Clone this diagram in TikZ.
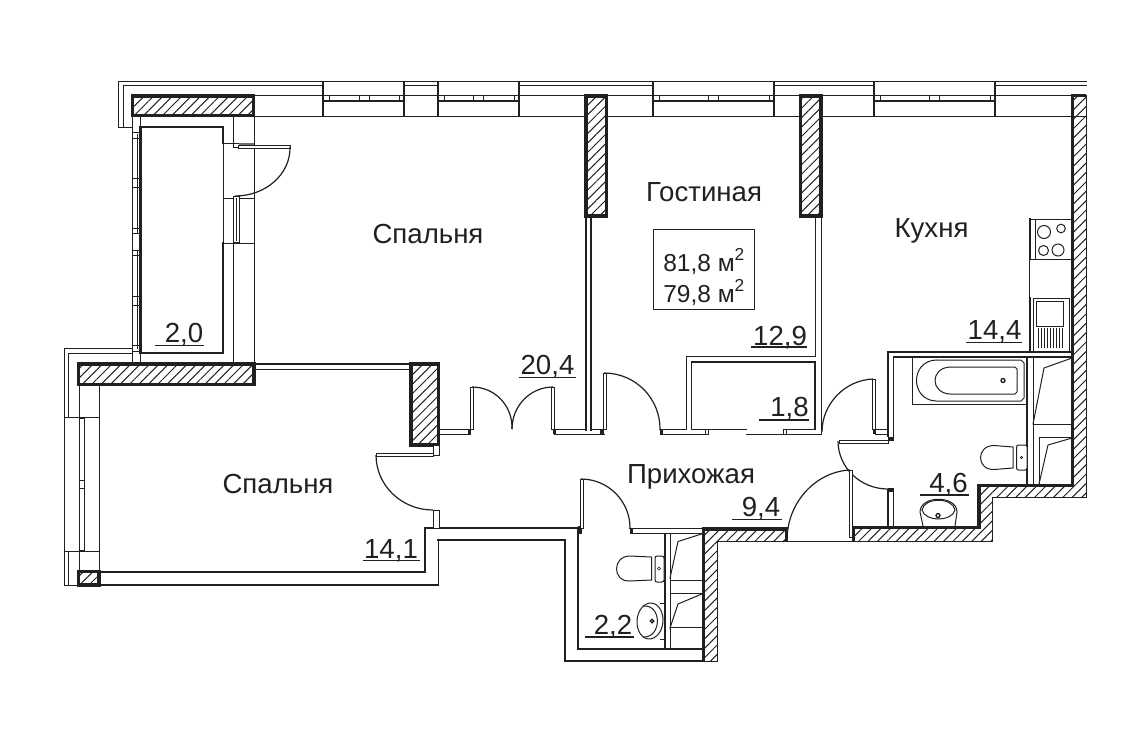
\documentclass[tikz,border=0pt]{standalone}
\usepackage{fontspec}
\setmainfont{Liberation Sans}
\usetikzlibrary{calc,patterns.meta}
\definecolor{ink}{HTML}{231F20}
\tikzset{
  ln/.style={draw=ink,line width=.75pt,line cap=rect},
  med/.style={draw=ink,line width=1.05pt,line cap=rect},
  hvy/.style={draw=ink,line width=1.8pt,line cap=rect},
  wall/.style={draw=ink,line width=2.7pt,line join=miter},
  hatch/.style={pattern={Lines[angle=45,distance=5pt,line width=.75pt]},pattern color=ink},
  lbl/.style={anchor=base,text=ink,font=\fontsize{20.7}{24}\selectfont,inner sep=0pt},
  sm/.style={anchor=base west,text=ink,font=\fontsize{18.4}{22}\selectfont,inner sep=0pt},
  leaf/.style={draw=ink,line width=.75pt,fill=white},
  swing/.style={draw=ink,line width=.9pt}
}
\newcommand{\doorarc}[3]{\draw[swing] (#2) .. controls ($(#2)+0.5523*(#3)-0.5523*(#1)$) and ($(#3)+0.5523*(#2)-0.5523*(#1)$) .. (#3);}
\newcommand{\topwin}[3]{%
  \draw[hvy,line cap=butt] (#1,81)--(#1,116) (#2,81)--(#2,116);
  \draw[med] (#1,101)--(#2,101);
  \draw[ln] ({#1+6},95)--({#1+6},101) ({#2-5},95)--({#2-5},101) ({#3-5},95)--({#3-5},101) ({#3+5},95)--({#3+5},101);
}
\begin{document}
\begin{tikzpicture}[x=.75pt,y=-.75pt]
\useasboundingbox (0,0) rectangle (1144,740);
% ---- upper facade
\draw[ln] (132,127)--(118,127)--(118,81)--(1086,81);
\draw[ln] (123,127)--(123,85)--(323,85) (404,85)--(438,85) (519,85)--(653,85) (774,85)--(874,85) (995,85)--(1086,85);
\draw[ln] (254,95.5)--(585,95.5) (607,95.5)--(800,95.5) (821,95.5)--(1072,95.5);
\draw[ln] (254,116)--(585,116) (607,116)--(800,116) (821,116)--(1072,116);
\topwin{323}{404}{364}
\topwin{438}{519}{478}
\topwin{653}{774}{713.5}
\topwin{874}{995}{934.5}
% ---- hatched walls
\draw[wall,hatch] (132.5,96)rectangle(253.5,115.5);
\draw[wall,hatch] (586,96)rectangle(606.5,216);
\draw[wall,hatch] (800.5,96)rectangle(821,216);
\draw[wall,hatch] (78.5,364)rectangle(254,384.5);
\draw[wall,hatch] (411,364)rectangle(438.5,445);
\draw[wall,hatch] (78.5,571.5)rectangle(99,585);
% stepped outer wall
\path[hatch] (703,528)--(787,528)--(787,541)--(717,541)--(717,661)--(703,661)--cycle;
\draw[ln] (787,541)--(717,541)--(717,661)--(703,661);
\draw[wall] (703.5,661)--(703.5,529)--(786.5,529)--(786.5,541);
\path[hatch] (853,527)--(979,527)--(979,485)--(1072,485)--(1072,95)--(1086,95)--(1086,497)--(992,497)--(992,541)--(853,541)--cycle;
\draw[ln] (1086,95)--(1086,497)--(992,497)--(992,541)--(853,541);
\draw[wall] (853.5,541)--(853.5,527.5)--(979,527.5)--(979,485.5)--(1072.5,485.5)--(1072.5,95.5)--(1086,95.5);
\draw[ln] (1072,116)--(1086,116);
% ---- balcony
\draw[hvy,line join=miter] (140.5,127)--(223,127)--(223,143);
\draw[hvy] (223,243)--(223,353)--(140.5,353)--(140.5,127);
\draw[ln] (140,116)--(140,127) (223,143)--(223,243);
\draw[med] (132.5,116)--(132.5,363);
\draw[ln] (137,134)--(137,233) (137,250)--(137,348);
\foreach \yy in {132,138,178,187,228,233,250,255,296,305,345,351}{\draw[ln] (133,\yy)--(140,\yy);}
\draw[ln] (140,353)--(140,363);
\draw[ln] (233,116)--(233,143) (233,243)--(233,363) (254,116)--(254,363);
\draw[ln] (223,143)--(239,143) (223,198)--(254,198) (223,243)--(254,243);
\draw[leaf] (233,143)rectangle(239,147);
\draw[draw=none,fill=ink!65] (239,143)rectangle(254,145);
\draw[leaf] (238,145.5)rectangle(290,148);
\doorarc{234,147}{290,147}{235,196}
\draw[leaf] (233,196)rectangle(239,242);
\draw[ln] (236,198)--(236,240);
% ---- left bedroom
\draw[ln] (132,348.5)--(64,348.5)--(64,585)--(78,585);
\draw[ln] (132,353)--(68.5,353)--(68.5,417);
\draw[ln] (68.5,551)--(68.5,585);
\draw[ln] (79,385)--(79,571) (99.5,385)--(99.5,572);
\draw[ln] (64,417)--(99,417) (64,551)--(99,551);
\draw[ln] (79.5,417)--(79.5,551) (84.5,417)--(84.5,551);
\draw[ln] (80,418)--(84,418) (80,480)--(84,480) (80,488)--(84,488) (80,550)--(84,550);
\draw[med] (254,364)--(411,364);
\draw[ln] (254,369.5)--(411,369.5);
\draw[med] (99,572)--(425,572)--(425,528)--(580,528);
\draw[med] (99,585)--(438.5,585)--(438.5,540);
\draw[med] (438,540)--(565,540)--(565,661)--(703,661);
\draw[leaf] (433,445)rectangle(439,455);
\draw[leaf] (376,453.5)rectangle(433,456);
\doorarc{433,455}{376,455}{433,510}
\draw[leaf] (433,510)rectangle(439,528);
% ---- bedroom-hall wall
\draw[ln] (439,429.5)--(470,429.5) (439,434.5)--(470,434.5);
\draw[fill=ink,draw=none] (468,429)rectangle(471,434);
\draw[leaf] (470.5,387)rectangle(473.5,429.5);
\doorarc{470.5,429}{472,387}{512,429}
\doorarc{553,429}{553,387}{512,429}
\draw[leaf] (551,387)rectangle(554,429.5);
\draw[fill=ink,draw=none] (553,429)rectangle(556,434);
\draw[ln] (554,429.5)--(586,429.5) (554,434.5)--(604,434.5);
\draw[med] (586,216)--(586,430);
\draw[med] (591,216)--(591,430);
\draw[ln] (591,429.5)--(604,429.5);
\draw[fill=ink,draw=none] (600,429)rectangle(604,434);
\draw[leaf] (603,373)rectangle(606,429.5);
\doorarc{603,430}{604,373}{660,430}
% ---- closet 1.8 / living wall
\draw[fill=ink,draw=none] (660,429)rectangle(663,434);
\draw[ln] (660,429.5)--(686.5,429.5) (660,434.5)--(708,434.5);
\draw[ln] (686.5,429.5)--(686.5,356)--(815,356)--(815,216);
\draw[med] (691.5,429.5)--(691.5,362)--(815,362)--(815,429.5)--(785,429.5);
\draw[ln] (821,216)--(821,434.5)--(746,434.5);
\draw[ln] (691.5,429.5)--(708,429.5)--(746.5,429.5);
\draw[leaf] (705,429.5)rectangle(708.5,434.5);
\draw[leaf] (783,429.5)rectangle(786.5,434.5);
% ---- bathroom door & walls
\draw[leaf] (872,379)rectangle(875,429.5);
\doorarc{873,430}{873,379}{822,432}
\draw[fill=ink,draw=none] (873,429)rectangle(876,434);
\draw[ln] (875,429.5)--(888,429.5) (875,434.5)--(888,434.5);
\draw[med] (888,436)--(888,352)--(1072,352);
\draw[med] (893.5,440)--(893.5,357)--(1072,357);
\draw[fill=ink,draw=none] (888,437)rectangle(894,441);
\draw[leaf] (839,440)rectangle(888,443);
\doorarc{888,441}{838,441}{888,489}
\draw[fill=ink,draw=none] (888,488)rectangle(893.5,492);
\draw[med] (888,490)--(888,526) (893.5,490)--(893.5,526);
% entrance door
\draw[leaf] (849.5,470)rectangle(852.5,537);
\doorarc{850,537}{850,470}{787,540}
\draw[ln] (787,541)--(853,541);
% ---- WC
\draw[fill=ink,draw=none] (578,526)rectangle(582,534);
\draw[leaf] (580,479)rectangle(583,528);
\doorarc{581,528}{581,479}{630,528}
\draw[fill=ink,draw=none] (630,528)rectangle(633,534);
\draw[med] (630,528.5)--(703,528.5);
\draw[ln] (632,533.5)--(703,533.5);
\draw[med] (578,530)--(578,649)--(703,649);
\draw[med] (665,533.5)--(665,649);
\draw[ln] (670,533.5)--(670,649);
\draw[ln] (670,580)--(703,580) (670,593)--(703,593) (670,627)--(703,627);
\draw[ln] (703,533.5)--(678,541.5)--(670,578);
\draw[ln] (703,593.5)--(678,604)--(670,628);
% WC toilet
\draw[leaf,rounded corners=1.5pt] (655,556)rectangle(664,582);
\draw[ln] (651.5,557)--(630,556) .. controls (612,556) and (612,582) .. (630,581)--(651.5,580)--cycle;
\filldraw[draw=ink,fill=white,line width=.5pt] (659,568.5) circle (1.5);
% WC sink
\draw[ln,rotate around={-5:(650,621)}] (650,621) ellipse [x radius=13,y radius=18];
\draw[ln] (660,603)--(664,603) (660,639)--(664,639) (664,603)--(664,639);
\draw[ln] (643,606) .. controls (662,604) and (662,637) .. (644,637);
\filldraw[draw=ink,fill=white,line width=1pt] (652,621) circle (1.8);
% ---- bath
\draw[ln] (912.5,357)--(912.5,404)--(1027,404);
\draw[ln] (936,360)--(1021,360)--(1024,363)--(1024,398)--(1021,401)--(936,401) .. controls (910,400) and (910,361) .. (936,360);
\draw[ln] (950,367)--(1015,367)--(1017,369)--(1017,392)--(1015,394)--(950,394) .. controls (930,393) and (930,368) .. (950,367);
\filldraw[draw=ink,fill=white,line width=1pt] (1003,380.5) circle (2);
\draw[med] (1027,357)--(1027,485);
\draw[ln] (1033,357)--(1033,485);
\draw[ln] (1033,424.5)--(1072,424.5);
\draw[ln] (1039,485)--(1039,437)--(1072,437);
\draw[ln] (1072,358)--(1044,368)--(1033,424);
\draw[ln] (1072,438)--(1048,445)--(1039,484);
% bath toilet
\draw[leaf,rounded corners=1.5pt] (1016.5,445)rectangle(1027,470);
\draw[ln] (1013,447)--(994,445.5) .. controls (976,445.5) and (976,470) .. (994,469.5)--(1013,468)--cycle;
\filldraw[draw=ink,fill=white,line width=.5pt] (1021.5,457.5) circle (1.2);
% bath sink
\draw[ln] (923,526)--(920,512) .. controls (920,495) and (957,495) .. (957,512)--(955,526);
\draw[ln] (922,510) .. controls (924,497) and (953,497) .. (955,510) .. controls (952,522) and (925,522) .. (922,510);
\filldraw[draw=ink,fill=white,line width=1pt] (938,515.5) circle (2);
% ---- kitchen
\draw[ln] (1071,219)--(1029,219)--(1029,351);
\draw[med] (1030,219)--(1030,259) (1030,298)--(1030,351);
\draw[ln] (1035,219)--(1035,259) (1029,259)--(1071,259);
\draw[ln] (1044,232) circle (6.5) (1061,228.5) circle (4.3) (1043.5,250.5) circle (5) (1058,250) circle (6);
\draw[ln] (1033,352)--(1033,298)--(1069,298)--(1069,352);
\draw[ln] (1036,301)rectangle(1063,326);
\foreach \xx in {1038,1041,1044,1047,1050,1053,1056,1059,1062}{\draw[ln,line width=.5pt] (\xx,328)--(\xx,348);}
% ---- area box
\draw[ln] (653,229)rectangle(754,309);
\node[sm] (areaa) at (663,271) {81,8 м\raisebox{.42em}{\fontsize{13}{13}\selectfont 2}};
\node[sm] (areab) at (663,302) {79,8 м\raisebox{.42em}{\fontsize{13}{13}\selectfont 2}};
% ---- labels
\node[lbl] (bedA) at (428,243) {Спальня};
\node[lbl] (living) at (704,201) {Гостиная};
\node[lbl] (kitchen) at (931.5,237) {Кухня};
\node[lbl] (bedB) at (278,493) {Спальня};
\node[lbl] (hall) at (691,483) {Прихожая};
\node[lbl] (nA) at (184,342) {2,0};
\draw[med] (156,345.5)--(203,345.5);
\node[lbl] (nB) at (547.5,374) {20,4};
\draw[med] (520,377.5)--(575,377.5);
\node[lbl] (nC) at (780,345) {12,9};
\draw[med] (752,347)--(806,347);
\node[lbl] (nD) at (994.5,339) {14,4};
\draw[med] (967,342.5)--(1021,342.5);
\node[lbl] (nE) at (789.5,416) {1,8};
\draw[med] (760,420)--(808,420);
\node[lbl] (nF) at (948.5,492) {4,6};
\draw[med] (921,495)--(968,495);
\node[lbl] (nG) at (761,516) {9,4};
\draw[med] (733,519.5)--(781,519.5);
\node[lbl] (nH) at (613,634) {2,2};
\draw[med] (586,637)--(633,637);
\node[lbl] (nI) at (391,558) {14,1};
\draw[med] (364,560.5)--(419,560.5);
\end{tikzpicture}
\end{document}
